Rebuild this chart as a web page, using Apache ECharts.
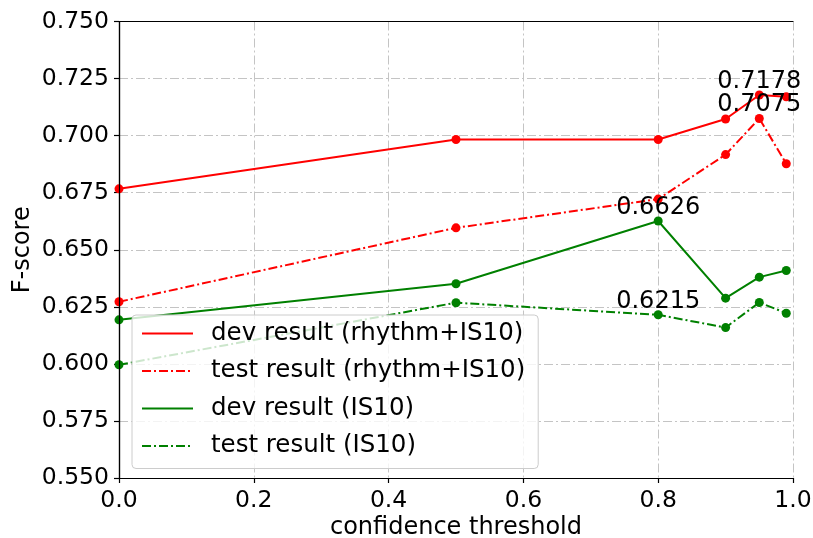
<!DOCTYPE html>
<html>
<head>
<meta charset="utf-8">
<script src="https://cdn.jsdelivr.net/npm/echarts@6/dist/echarts.min.js"></script>
<style>
  html, body { margin: 0; padding: 0; background: #fff; }
  #chart { width: 813px; height: 538px; }
</style>
</head>
<body>
<div id="chart"></div>
<script>
// Confidence thresholds on the x axis
var thresholds = [0.0, 0.5, 0.8, 0.9, 0.95, 0.99];

// F-scores per configuration
var devRhythm  = [0.6767, 0.6983, 0.6983, 0.7073, 0.7178, 0.7170];
var testRhythm = [0.6272, 0.6596, 0.6722, 0.6917, 0.7075, 0.6877];
var devIS10    = [0.6193, 0.6351, 0.6626, 0.6288, 0.6380, 0.6409];
var testIS10   = [0.5996, 0.6268, 0.6215, 0.6159, 0.6269, 0.6222];

var seriesNames = [
  'dev result (rhythm+IS10)',
  'test result (rhythm+IS10)',
  'dev result (IS10)',
  'test result (IS10)'
];

// Index of the point whose value is annotated in each series
var annotatedIndex = [4, 4, 2, 2];

var xTicks = [0, 0.2, 0.4, 0.6, 0.8, 1.0];
var yTicks = [0.550, 0.575, 0.600, 0.625, 0.650, 0.675, 0.700, 0.725, 0.750];

var RED = '#ff0000', GREEN = '#008000';
var FONT = 'DejaVu Sans';
var dashDot = [9, 3, 2, 3];

function pairs(values) {
  return thresholds.map(function (x, i) { return [x, values[i]]; });
}

var allSeries = [devRhythm, testRhythm, devIS10, testIS10];
var colors = [RED, RED, GREEN, GREEN];
var styles = ['solid', dashDot, 'solid', dashDot];

var series = [];
allSeries.forEach(function (vals, k) {
  series.push({
    name: seriesNames[k],
    type: 'line',
    data: pairs(vals),
    symbol: 'none',
    lineStyle: { color: colors[k], width: 2, type: styles[k] },
    itemStyle: { color: colors[k] },
    z: 3,
    animation: false
  });
});
allSeries.forEach(function (vals, k) {
  series.push({
    name: seriesNames[k] + ' points',
    type: 'scatter',
    symbol: 'circle',
    symbolSize: 9,
    itemStyle: { color: colors[k], opacity: 1 },
    z: 3,
    animation: false,
    data: thresholds.map(function (x, i) {
      var item = { value: [x, vals[i]] };
      if (i === annotatedIndex[k]) {
        item.label = {
          show: true,
          position: 'top',
          distance: -3,
          formatter: vals[i].toFixed(4),
          color: '#000',
          fontFamily: FONT,
          fontSize: 24
        };
      }
      return item;
    })
  });
});

var gridLine = { show: true, lineStyle: { color: '#c4c4c4', width: 1, type: dashDot } };
var spine = { show: true, lineStyle: { color: '#000', width: 1.2 } };

var chart = echarts.init(document.getElementById('chart'), null, { renderer: 'canvas' });
chart.setOption({
  backgroundColor: '#fff',
  animation: false,
  grid: {
    left: 119, right: 20, top: 21.5, bottom: 60,
    containLabel: false, outerBoundsMode: 'none'
  },
  legend: {
    data: seriesNames,
    orient: 'vertical',
    left: 132,
    top: 315,
    itemWidth: 51,
    itemHeight: 14,
    itemGap: 12.5,
    padding: [6, 13, 10, 9],
    backgroundColor: 'rgba(255,255,255,0.8)',
    borderColor: '#cccccc',
    borderWidth: 1,
    borderRadius: 4,
    itemStyle: { opacity: 0, borderWidth: 0 },
    textStyle: { fontFamily: FONT, fontSize: 24.5, color: '#000', padding: [0, 0, 0, 13] },
    z: 10
  },
  xAxis: [{
    type: 'value',
    min: xTicks[0],
    max: xTicks[xTicks.length - 1],
    interval: 0.2,
    name: 'confidence threshold',
    nameLocation: 'middle',
    nameGap: 38,
    nameMoveOverlap: false,
    nameTextStyle: { fontFamily: FONT, fontSize: 24, color: '#000' },
    axisLine: spine,
    axisTick: { show: true, inside: false, length: 5, lineStyle: { color: '#000', width: 1.2 } },
    axisLabel: {
      margin: 11, fontFamily: FONT, fontSize: 23.5, color: '#000',
      formatter: function (v) { return v.toFixed(1); }
    },
    splitLine: gridLine
  }, {
    // top spine
    type: 'value', position: 'top', min: 0, max: 1, z: 5,
    axisLine: spine, axisTick: { show: false }, axisLabel: { show: false }, splitLine: { show: false }
  }],
  yAxis: [{
    type: 'value',
    min: yTicks[0],
    max: yTicks[yTicks.length - 1],
    interval: 0.025,
    name: 'F-score',
    nameLocation: 'middle',
    nameGap: 84,
    nameMoveOverlap: false,
    nameTextStyle: { fontFamily: FONT, fontSize: 24, color: '#000' },
    axisLine: spine,
    axisTick: { show: true, inside: false, length: 5, lineStyle: { color: '#000', width: 1.2 } },
    axisLabel: {
      margin: 10, fontFamily: FONT, fontSize: 23.5, color: '#000',
      formatter: function (v) { return v.toFixed(3); }
    },
    splitLine: gridLine
  }, {
    // right spine
    type: 'value', position: 'right', min: 0, max: 1, z: 5,
    axisLine: spine, axisTick: { show: false }, axisLabel: { show: false }, splitLine: { show: false }
  }],
  series: series
});
</script>
</body>
</html>
